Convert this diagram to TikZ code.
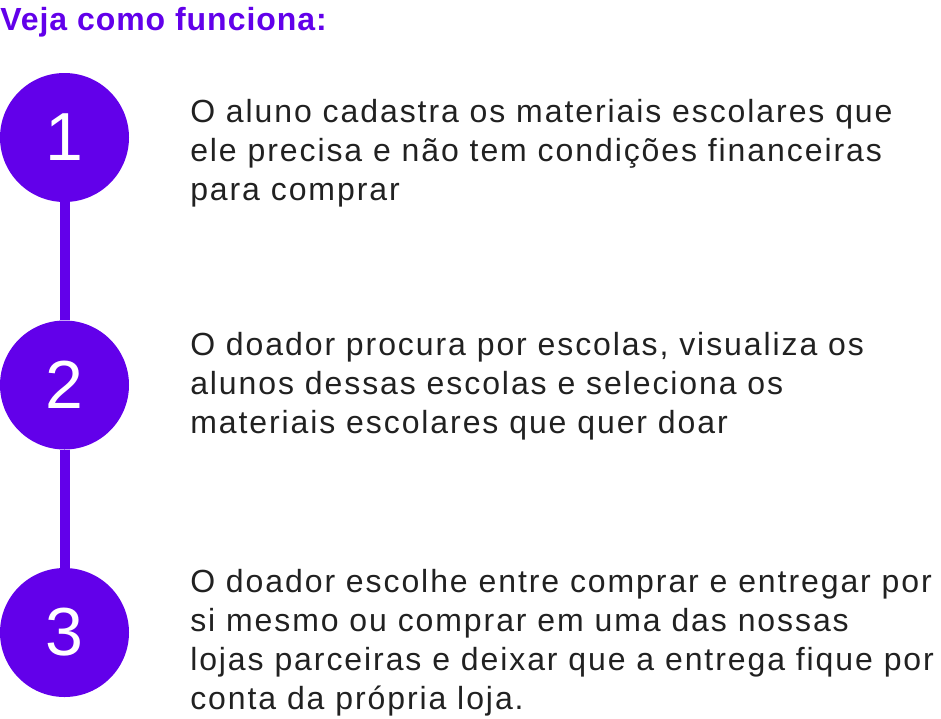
\documentclass[tikz,border=0pt]{standalone}
\usepackage{fontspec}
\setmainfont{Liberation Sans}
\newfontfamily\stepfont[LetterSpace=6]{Liberation Sans}
\newfontfamily\titlefont[LetterSpace=3]{Liberation Sans}
\usetikzlibrary{positioning}
\definecolor{purple1}{RGB}{98,0,234}
\definecolor{gray1}{RGB}{33,33,33}

\begin{document}
\begin{tikzpicture}[x=0.75pt,y=-0.75pt,
  stepnum/.style={circle, fill=purple1, minimum size=96.75pt, inner sep=0pt,
    text=white, font=\fontsize{51}{51}\selectfont},
  steptext/.style={anchor=base west, inner sep=0pt, align=left, text=gray1,
    font=\stepfont\fontsize{24}{29.25}\selectfont},
  stepline/.style={purple1, line width=7.5pt}]
\useasboundingbox (0,0) rectangle (941,718);

% title
\node[anchor=base west, inner sep=0pt, text=purple1,
  font=\titlefont\bfseries\fontsize{24}{24}\selectfont] (title) at (0,30) {Veja como funciona:};

% numbered circles
\foreach \n/\y in {1/137.5,2/385,3/632.5}
  \node[stepnum] (s\n) at (64.5,\y) {\n};
\draw[stepline] (s1) -- (s2); \draw[stepline] (s2) -- (s3);

% texts (base = last line)
\node[steptext] (t1) at (190,200) {O aluno cadastra os materiais escolares que\\ele precisa e não tem condições financeiras\\para comprar};
\node[steptext] (t2) at (190,433) {O doador procura por escolas, visualiza os\\alunos dessas escolas e seleciona os\\materiais escolares que quer doar};
\node[steptext] (t3) at (190,709) {O doador escolhe entre comprar e entregar por\\si mesmo ou comprar em uma das nossas\\lojas parceiras e deixar que a entrega fique por\\conta da própria loja.};

\end{tikzpicture}
\end{document}
